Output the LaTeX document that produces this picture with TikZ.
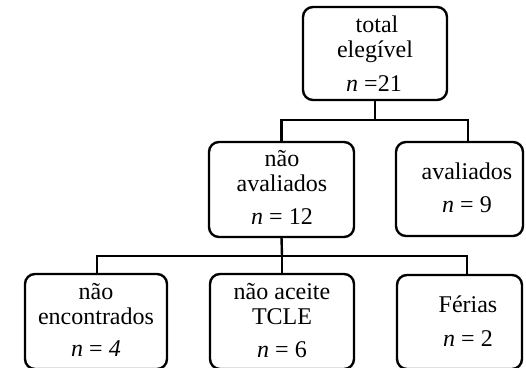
\documentclass[tikz,border=0pt]{standalone}
\usepackage{fontspec}
\setmainfont{Liberation Serif}
\begin{document}
\begin{tikzpicture}[x=0.5pt,y=-0.5pt,
  box/.style={draw=black,line width=1.2pt,rounded corners=5pt,inner sep=0pt,outer sep=0pt,rectangle},
  lbl/.style={anchor=base,inner sep=0pt,font=\fontsize{12}{12}\selectfont},
  conn/.style={draw=black,line width=1.2pt}]
\useasboundingbox (0,0) rectangle (526,368);
% boxes
\node[box,minimum width=72pt,minimum height=46.5pt] (top) at (375,53.5) {};
\node[box,minimum width=72.5pt,minimum height=47.5pt] (nav) at (281.5,189.5) {};
\node[box,minimum width=63.5pt,minimum height=47pt] (av) at (459.5,189) {};
\node[box,minimum width=71pt,minimum height=47.5pt] (ne) at (96,321.5) {};
\node[box,minimum width=72pt,minimum height=47.5pt] (tc) at (282,321.5) {};
\node[box,minimum width=62.5pt,minimum height=47pt] (fe) at (459.5,322) {};
% texts
\node[lbl] (top1) at (377,33) {total};
\node[lbl] (top2) at (375,58) {elegível};
\node[lbl] (top3) at (374,92) {\textit{n} =21};
\node[lbl] (nav1) at (282,167) {não};
\node[lbl] (nav2) at (282,192) {avaliados};
\node[lbl] (nav3) at (282,225) {\textit{n} = 12};
\node[lbl] (av1) at (467,180) {avaliados};
\node[lbl] (av2) at (467,213) {\textit{n} = 9};
\node[lbl] (ne1) at (96,300) {não};
\node[lbl] (ne2) at (96,325) {encontrados};
\node[lbl] (ne3) at (96,357) {\textit{n} = \textit{4}};
\node[lbl] (tc1) at (282,300) {não aceite};
\node[lbl] (tc2) at (282,325) {TCLE};
\node[lbl] (tc3) at (282,358) {\textit{n} = 6};
\node[lbl] (fe1) at (468,313) {Férias};
\node[lbl] (fe2) at (468,347) {\textit{n} = 2};
% connectors
\coordinate (j1) at (375,120);
\coordinate (avt) at (468,142);
\coordinate (j2) at (282,256);
\coordinate (fet) at (467,275);
\coordinate (net) at (97,274);
\draw[conn] (top.south) -- (j1);
\draw[conn] (nav.north) |- (j1) -| (avt);
\draw[conn] (nav.south) -- (j2);
\draw[conn] (net) |- (j2) -| (fet);
\draw[conn] (tc.north) -- (j2);
\end{tikzpicture}
\end{document}
